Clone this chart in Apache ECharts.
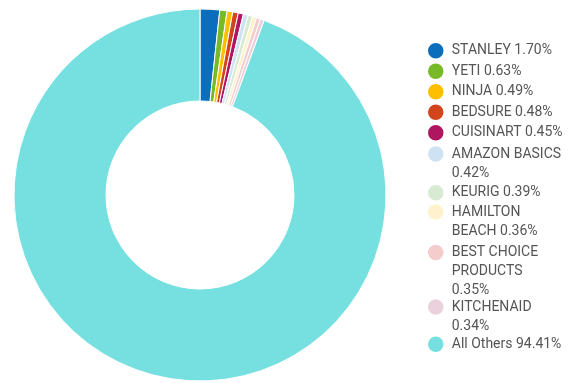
<!DOCTYPE html>
<html><head><meta charset="utf-8">
<script src="https://cdn.jsdelivr.net/npm/echarts@6/dist/echarts.min.js"></script>
<style>html,body{margin:0;padding:0;background:#fff;}#c{width:573px;height:383px;}</style>
</head><body><div id="c"></div>
<script>
const brands = ['STANLEY','YETI','NINJA','BEDSURE','CUISINART','AMAZON BASICS','KEURIG','HAMILTON BEACH','BEST CHOICE PRODUCTS','KITCHENAID','All Others'];
const shares = [1.70,0.63,0.49,0.48,0.45,0.42,0.39,0.36,0.35,0.34,94.41];
const colors = ['#0a6ebd','#78b928','#ffbf00','#d2441b','#b0155f','#cfe2f3','#d9ead3','#fff2cc','#f4cccc','#ead1dc','#76e0e0'];
// legend label text with line breaks as shown in the reference
const legendText = ['STANLEY 1.70%','YETI 0.63%','NINJA 0.49%','BEDSURE 0.48%','CUISINART 0.45%','AMAZON BASICS\n0.42%','KEURIG 0.39%','HAMILTON\nBEACH 0.36%','BEST CHOICE\nPRODUCTS\n0.35%','KITCHENAID\n0.34%','All Others 94.41%'];
// first-line centre y for each legend entry
const legendY = [50.5,71,91.5,112,132.5,154,192.5,212,252.5,307,344];

const LH = 19;
const legends = brands.map((b,i)=>{
  const L = legendText[i].split('\n').length;
  // pad with empty lines above so the icon sits beside the first line
  const txt = '\n'.repeat(L-1) + legendText[i];
  return {
    data:[b], selectedMode:false, orient:'vertical', left:426, top: legendY[i]-(2*L-1)*LH/2,
    padding:0, itemWidth:22, itemHeight:17.5, icon:'circle',
    formatter: txt,
    textStyle:{color:'#555', fontFamily:'Roboto', fontSize:14, lineHeight:LH}
  };
});
const chart = echarts.init(document.getElementById('c'));
chart.setOption({
  animation:false,
  color: colors,
  legend: legends,
  series:[{
    type:'pie', center:[200,195], radius:[94,186], startAngle:90, clockwise:true,
    label:{show:false}, labelLine:{show:false}, emphasis:{disabled:true},
    itemStyle:{borderColor:'#fff', borderWidth:1},
    data: brands.map((b,i)=>({name:b, value:shares[i]}))
  }]
});
</script></body></html>
